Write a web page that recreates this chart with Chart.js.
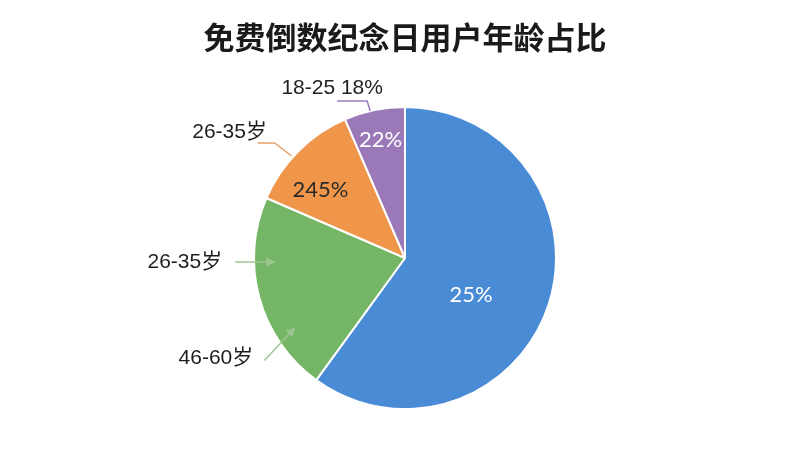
<!DOCTYPE html>
<html>
<head>
<meta charset="utf-8">
<script src="https://cdn.jsdelivr.net/npm/chart.js@4"></script>
<style>
  html, body { margin: 0; padding: 0; background: #fff; }
  #wrap { width: 800px; height: 450px; }
</style>
</head>
<body>
<div id="wrap"><canvas id="ageChart" width="800" height="450"></canvas></div>
<script>
// chart data
const titleText = '免费倒数纪念日用户年龄占比';
const groups = ['', '46-60岁', '26-35岁', '18-25'];
const shares = [60, 21.5, 12, 6.5];
const innerLabels = ['25%', '', '245%', '22%'];
const sliceColors = ['#4a8bd5', '#74b665', '#f0964b', '#9b79b9'];

const CJK = '"Liberation Sans", "Noto Sans CJK SC", sans-serif';

// where the callouts sit (slice index, position along the slice, radius factor)
const callouts = [
    { index: 3, t: 0.43, rf: 1.0, kind: 'elbow', text: '18-25 18%', color: '#9a7bbb',
      elbow: [-3, -10], end: [-30, 0], textAt: [-5, -13], align: 'center' },
    { index: 2, t: 0.43, rf: 1.01, kind: 'elbow', text: '26-35岁', color: '#e8a06a',
      elbow: [-17, -13], end: [-17, 0], textAt: [-28, -11], align: 'center' },
    { index: 1, t: 0.675, rf: 0.86, kind: 'arrow', text: '26-35岁', color: '#9cc592',
      tail: [-40, 0], textAt: [-13, 0], align: 'right' },
    { index: 1, t: 0.28, rf: 0.86, kind: 'arrow', text: '46-60岁', color: '#9cc592',
      tail: [-31, 33], textAt: [-11, -2], align: 'right' }
];

// inner label placement (radius factor and angle shift in degrees)
const innerPlace = [
    { rf: 0.5, shift: 11 },
    { rf: 0.5, shift: 0 },
    { rf: 0.72, shift: -6 },
    { rf: 0.8, shift: 0 }
];

function pointOnArc(arc, t, rf, shiftDeg) {
    const a = arc.startAngle + t * (arc.endAngle - arc.startAngle) + (shiftDeg || 0) * Math.PI / 180;
    const r = arc.outerRadius * rf;
    return { x: arc.x + Math.cos(a) * r, y: arc.y + Math.sin(a) * r };
}

const labelPlugin = {
    id: 'ageLabels',
    afterDraw(chart) {
        const ctx = chart.ctx;
        const arcs = chart.getDatasetMeta(0).data;

        // title
        ctx.save();
        ctx.fillStyle = '#1a1a1a';
        ctx.font = 'bold 31px "Noto Sans CJK SC", sans-serif';
        ctx.textAlign = 'center';
        ctx.textBaseline = 'middle';
        ctx.fillText(titleText, 405, 37);
        ctx.restore();

        // labels inside slices
        innerLabels.forEach((txt, i) => {
            if (!txt) return;
            const p = pointOnArc(arcs[i], 0.5, innerPlace[i].rf, innerPlace[i].shift);
            ctx.save();
            ctx.font = '22px Lato, "Open Sans", sans-serif';
            ctx.textAlign = 'center';
            ctx.textBaseline = 'middle';
            ctx.fillStyle = i === 2 ? '#2a2a2a' : '#ffffff';
            ctx.fillText(txt, p.x, p.y);
            ctx.restore();
        });

        // callouts
        callouts.forEach(c => {
            const tip = pointOnArc(arcs[c.index], c.t, c.rf);
            ctx.save();
            ctx.strokeStyle = c.color;
            ctx.fillStyle = c.color;
            ctx.lineWidth = 1.5;
            let textX, textY;
            if (c.kind === 'elbow') {
                const e = { x: tip.x + c.elbow[0], y: tip.y + c.elbow[1] };
                const f = { x: e.x + c.end[0], y: e.y + c.end[1] };
                ctx.beginPath();
                ctx.moveTo(tip.x, tip.y);
                ctx.lineTo(e.x, e.y);
                ctx.lineTo(f.x, f.y);
                ctx.stroke();
                textX = f.x + c.textAt[0];
                textY = f.y + c.textAt[1];
            } else {
                const tail = { x: tip.x + c.tail[0], y: tip.y + c.tail[1] };
                ctx.beginPath();
                ctx.moveTo(tail.x, tail.y);
                ctx.lineTo(tip.x, tip.y);
                ctx.stroke();
                const ang = Math.atan2(tip.y - tail.y, tip.x - tail.x);
                const hl = 9, hw = 4.5;
                ctx.beginPath();
                ctx.moveTo(tip.x, tip.y);
                ctx.lineTo(tip.x - hl * Math.cos(ang) + hw * Math.sin(ang), tip.y - hl * Math.sin(ang) - hw * Math.cos(ang));
                ctx.lineTo(tip.x - hl * Math.cos(ang) - hw * Math.sin(ang), tip.y - hl * Math.sin(ang) + hw * Math.cos(ang));
                ctx.closePath();
                ctx.fill();
                textX = tail.x + c.textAt[0];
                textY = tail.y + c.textAt[1];
            }
            ctx.fillStyle = '#1e1e1e';
            ctx.font = '21px ' + CJK;
            ctx.textAlign = c.align;
            ctx.textBaseline = 'middle';
            ctx.fillText(c.text, textX, textY);
            ctx.restore();
        });
    }
};

new Chart(document.getElementById('ageChart').getContext('2d'), {
    type: 'pie',
    data: {
        labels: groups,
        datasets: [{
            data: shares,
            backgroundColor: sliceColors,
            borderColor: '#ffffff',
            borderWidth: 2
        }]
    },
    options: {
        responsive: false,
        animation: false,
        layout: { padding: { top: 106, bottom: 40, left: 10, right: 0 } },
        plugins: {
            legend: { display: false },
            tooltip: { enabled: false },
            title: { display: false }
        }
    },
    plugins: [labelPlugin]
});
</script>
</body>
</html>
